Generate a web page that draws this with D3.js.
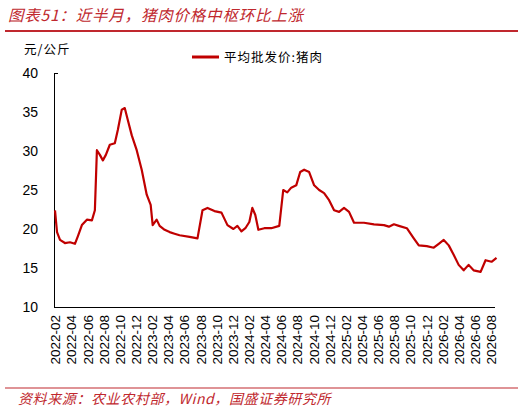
<!DOCTYPE html>
<html><head><meta charset="utf-8">
<script src="https://cdn.jsdelivr.net/npm/d3@7"></script>
<style>body{margin:0;background:#fff}svg{display:block}</style>
</head><body><svg id="c" width="532" height="412"></svg>
<script>
const seriesName = "平均批发价:猪肉";
// month offsets from 2022-02
const monthOffset = [0,.25,.62,1.23,1.85,2.47,2.84,3.33,3.95,4.57,4.94,5.19,5.56,5.93,6.3,6.79,7.41,7.78,8.27,8.64,9.01,9.51,10.12,10.74,11.36,11.85,12.1,12.59,12.96,13.58,14.2,14.81,15.43,16.67,17.65,18.27,18.89,19.75,20.62,21.36,22.1,22.59,23.09,23.58,24.07,24.44,24.81,25.19,25.93,26.79,27.78,28.27,28.77,29.26,29.88,30.37,30.86,31.48,32.1,32.72,33.33,33.95,34.57,35.19,35.8,36.42,37.04,38.27,39.51,40.74,41.36,41.98,42.59,43.58,44.44,45.06,46.05,46.91,47.53,48.15,48.77,49.38,50,50.62,51.23,51.85,52.72,53.33,54.07,54.69];
const price = [22.4,19.6,18.6,18.2,18.3,18.1,19.1,20.5,21.2,21.1,22.4,30.1,29.5,28.8,29.5,30.8,31.0,32.7,35.3,35.5,34.0,32.0,30.1,27.6,24.4,23.1,20.5,21.2,20.4,19.9,19.6,19.4,19.2,19.0,18.8,22.4,22.7,22.3,22.1,20.5,20.0,20.4,19.7,20.1,20.9,22.7,21.8,19.9,20.1,20.1,20.4,25.0,24.7,25.3,25.6,27.3,27.6,27.3,25.6,25.0,24.6,23.7,22.4,22.2,22.7,22.2,20.8,20.8,20.6,20.5,20.3,20.6,20.4,20.1,18.8,17.9,17.8,17.6,18.1,18.6,17.9,16.7,15.4,14.7,15.4,14.7,14.5,16.0,15.8,16.3];
const tickLabels = ["2022-02","2022-04","2022-06","2022-08","2022-10","2022-12","2023-02","2023-04","2023-06","2023-08","2023-10","2023-12","2024-02","2024-04","2024-06","2024-08","2024-10","2024-12","2025-02","2025-04","2025-06","2025-08","2025-10","2025-12","2026-02","2026-04","2026-06","2026-08"];
const yTicks = [10,15,20,25,30,35,40];

const svg = d3.select("#c");
const red = "#c00000";
const font = "'Liberation Sans', Arial, sans-serif";
const cjk = "'Noto Sans CJK SC', sans-serif";

svg.append("text").attr("x",8).attr("y",21).attr("fill","#c0282e").attr("font-style","italic")
  .attr("font-family",cjk).attr("font-size",15.5).attr("letter-spacing",0.8).text("图表51：近半月，猪肉价格中枢环比上涨");
svg.append("line").attr("x1",5).attr("x2",518).attr("y1",31).attr("y2",31).attr("stroke","#c0282e").attr("stroke-width",2);
svg.append("line").attr("x1",5).attr("x2",518).attr("y1",388).attr("y2",388).attr("stroke","#c0282e").attr("stroke-width",1.2);
svg.append("text").attr("x",18).attr("y",404).attr("fill","#c0282e").attr("font-style","italic")
  .attr("font-family",cjk).attr("font-size",14).attr("letter-spacing",0.6).text("资料来源：农业农村部，Wind，国盛证券研究所");

svg.append("text").attr("x",24).attr("y",54).attr("font-family",cjk).attr("font-size",12.5).attr("letter-spacing",1).text("元/公斤");

const x = d3.scaleLinear().domain([0,54.5]).range([55,495]);
const y = d3.scaleLinear().domain([10,40]).range([307,73]);

const ya = svg.append("g").attr("transform","translate(54,0)")
  .call(d3.axisLeft(y).tickValues(yTicks).tickSize(0).tickPadding(16));
ya.selectAll("text").attr("font-family",font).attr("font-size",14).attr("fill","#000");
ya.select(".domain").attr("stroke","#000");
svg.append("line").attr("x1",54).attr("x2",58).attr("y1",73.5).attr("y2",73.5).attr("stroke","#000");

const xa = svg.append("g").attr("transform","translate(0,307)")
  .call(d3.axisBottom(x).tickValues(d3.range(0,55,2)).tickFormat((d,i)=>tickLabels[i]).tickSize(0).tickPadding(8).tickSizeOuter(0));
xa.select(".domain").attr("stroke","#000").attr("d","M54,0.5H495");
xa.selectAll("text").attr("font-family",font).attr("font-size",13.5).attr("fill","#000")
  .attr("text-anchor","end").attr("transform","rotate(-90)").attr("dx","-8").attr("dy","0.35em").attr("y",0);

const line = d3.line().x((d,i)=>x(monthOffset[i])).y(d=>y(d));
svg.append("path").datum(price).attr("d",line).attr("fill","none").attr("stroke",red).attr("stroke-width",2.2).attr("stroke-linejoin","round");

svg.append("line").attr("x1",192).attr("x2",219).attr("y1",57).attr("y2",57).attr("stroke",red).attr("stroke-width",3);
svg.append("text").attr("x",224).attr("y",62).attr("font-family",cjk).attr("font-size",12.5).attr("letter-spacing",1).text(seriesName);
</script></body></html>
